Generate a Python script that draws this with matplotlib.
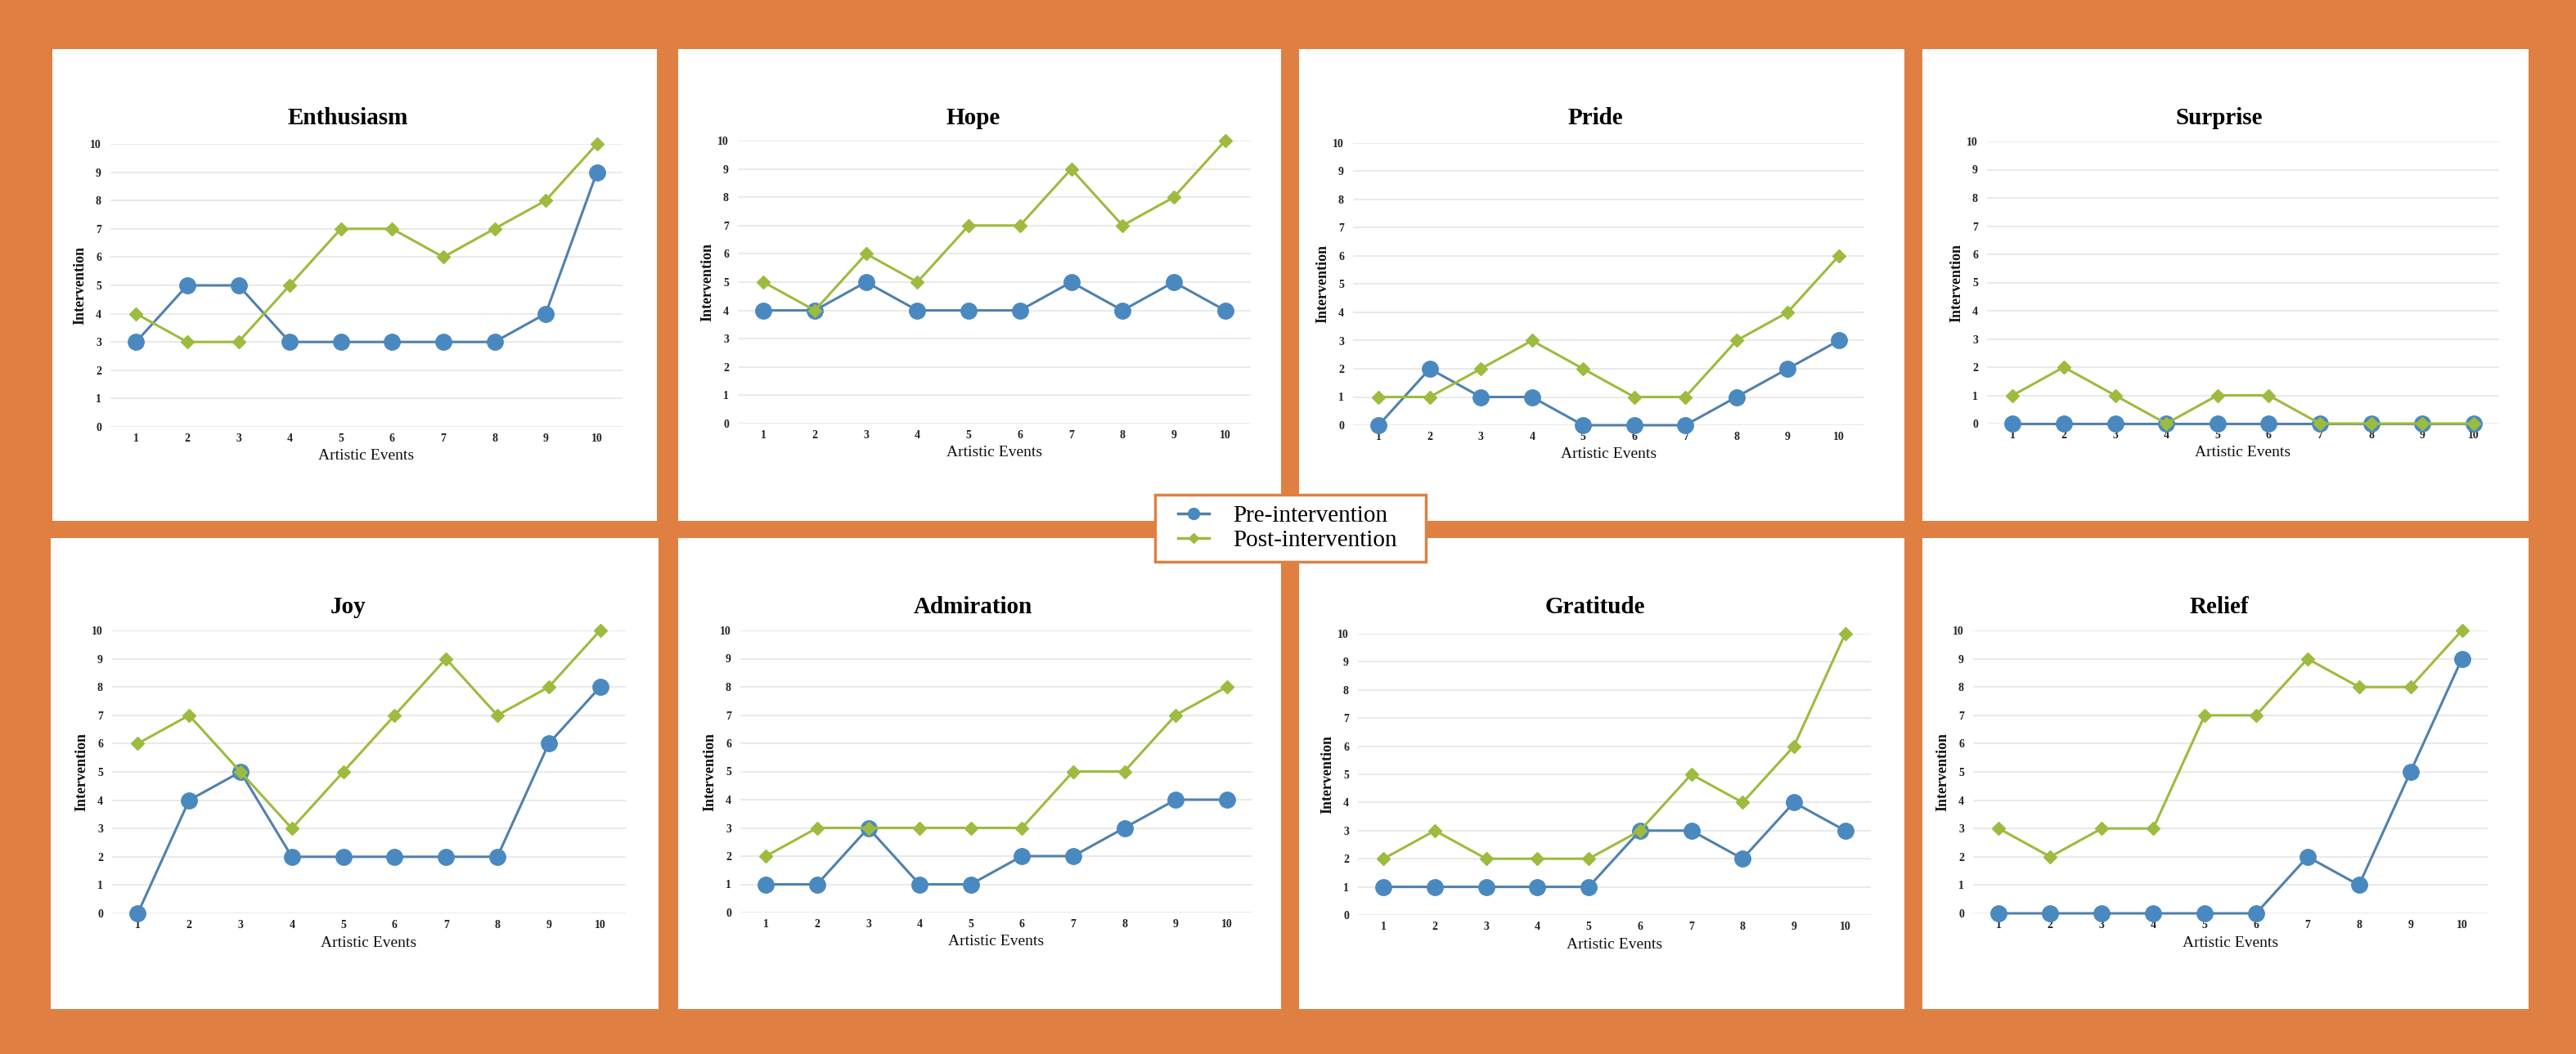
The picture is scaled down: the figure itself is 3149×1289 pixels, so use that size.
import matplotlib
matplotlib.use("Agg")
import matplotlib.pyplot as plt
from matplotlib.patches import Rectangle
from matplotlib.lines import Line2D

# ---------------- data ----------------
events = [1, 2, 3, 4, 5, 6, 7, 8, 9, 10]
y_ticks = [0, 1, 2, 3, 4, 5, 6, 7, 8, 9, 10]
titles = ["Enthusiasm", "Hope", "Pride", "Surprise",
          "Joy", "Admiration", "Gratitude", "Relief"]

enthusiasm_pre = [3, 5, 5, 3, 3, 3, 3, 3, 4, 9]
enthusiasm_post = [4, 3, 3, 5, 7, 7, 6, 7, 8, 10]
hope_pre = [4, 4, 5, 4, 4, 4, 5, 4, 5, 4]
hope_post = [5, 4, 6, 5, 7, 7, 9, 7, 8, 10]
pride_pre = [0, 2, 1, 1, 0, 0, 0, 1, 2, 3]
pride_post = [1, 1, 2, 3, 2, 1, 1, 3, 4, 6]
surprise_pre = [0, 0, 0, 0, 0, 0, 0, 0, 0, 0]
surprise_post = [1, 2, 1, 0, 1, 1, 0, 0, 0, 0]
joy_pre = [0, 4, 5, 2, 2, 2, 2, 2, 6, 8]
joy_post = [6, 7, 5, 3, 5, 7, 9, 7, 8, 10]
admiration_pre = [1, 1, 3, 1, 1, 2, 2, 3, 4, 4]
admiration_post = [2, 3, 3, 3, 3, 3, 5, 5, 7, 8]
gratitude_pre = [1, 1, 1, 1, 1, 3, 3, 2, 4, 3]
gratitude_post = [2, 3, 2, 2, 2, 3, 5, 4, 6, 10]
relief_pre = [0, 0, 0, 0, 0, 0, 2, 1, 5, 9]
relief_post = [3, 2, 3, 3, 7, 7, 9, 8, 8, 10]

pre_series = [enthusiasm_pre, hope_pre, pride_pre, surprise_pre,
              joy_pre, admiration_pre, gratitude_pre, relief_pre]
post_series = [enthusiasm_post, hope_post, pride_post, surprise_post,
               joy_post, admiration_post, gratitude_post, relief_post]

series_labels = ["Pre-intervention", "Post-intervention"]
x_label = "Artistic Events"
y_label = "Intervention"

# ---------------- style ----------------
ORANGE = "#DF8042"
BLUE_M = "#4A89C0"
BLUE_L = "#5081AC"
GREEN = "#9DBB3E"
GRID = "#EAEAEA"
SERIF = "Liberation Serif"

W, H = 3149, 1289
fig = plt.figure(figsize=(W / 100, H / 100), dpi=100, facecolor=ORANGE)


def fx(px):
    return px / W


def fy(py):
    return 1 - py / H


# panel boxes (left, top, right, bottom) in pixels
panels = [(64, 60, 803, 637), (829, 60, 1566, 637),
          (1588, 60, 2328, 637), (2350, 60, 3091, 637),
          (62, 658, 805, 1234), (829, 658, 1566, 1234),
          (1588, 658, 2328, 1234), (2350, 658, 3091, 1234)]
# plot areas (x left, x right, y at 10, y at 0) in pixels
areas = [(135, 761, 176, 522), (902, 1529, 172, 518),
         (1654, 2279, 175, 520), (2429, 3055, 173, 518),
         (137, 765, 771, 1117), (905, 1531, 771, 1116),
         (1660, 2287, 775, 1119), (2412, 3041, 771, 1117)]

for i in range(8):
    pl, pt, pr, pb = panels[i]
    fig.add_artist(Rectangle((fx(pl), fy(pb)), fx(pr - pl), (pb - pt) / H,
                             transform=fig.transFigure, facecolor="white",
                             edgecolor="none", zorder=0))
    gl, gr, y10, y0 = areas[i]
    ax = fig.add_axes([fx(gl), fy(y0), fx(gr - gl), (y0 - y10) / H])
    ax.set_facecolor("none")
    ax.plot(events, pre_series[i], color=BLUE_L, lw=2.2, marker="o",
            markersize=14, markerfacecolor=BLUE_M, markeredgecolor=BLUE_M,
            clip_on=False, zorder=3)
    ax.plot(events, post_series[i], color=GREEN, lw=2.2, marker="D",
            markersize=8, markerfacecolor=GREEN, markeredgecolor=GREEN,
            clip_on=False, zorder=4)
    ax.set_xlim(0.5, 10.5)
    ax.set_ylim(0, 10)
    ax.set_xticks(events)
    ax.set_yticks(y_ticks)
    ax.set_xticklabels([str(e) for e in events])
    ax.set_yticklabels([str(t) for t in y_ticks])
    for sp in ax.spines.values():
        sp.set_visible(False)
    ax.yaxis.grid(True, color=GRID, lw=1.5)
    ax.xaxis.grid(False)
    ax.set_axisbelow(True)
    ax.tick_params(axis="both", length=0, labelsize=10, labelcolor="#222222")
    ax.tick_params(axis="x", pad=6)
    ax.tick_params(axis="y", pad=8)
    for lab in ax.get_xticklabels() + ax.get_yticklabels():
        lab.set_fontfamily(SERIF)
        lab.set_fontweight("bold")

    # title
    fig.text(fx((pl + pr) / 2 - 8), fy(pt + 85), titles[i], ha="center",
             va="center", fontsize=21, fontweight="bold", family=SERIF,
             color="black")
    # x label
    fig.text(fx((gl + gr) / 2), fy(y0 + 36), x_label, ha="center",
             va="center", fontsize=14, family=SERIF, color="#111111")
    # y label
    fig.text(fx(gl - 37), fy((y10 + y0) / 2), y_label, ha="center",
             va="center", rotation=90, fontsize=13, fontweight="bold",
             family=SERIF, color="#111111")

# legend box
fig.add_artist(Rectangle((fx(1412), fy(687)), fx(1743 - 1412), (687 - 605) / H,
                         transform=fig.transFigure, facecolor="white",
                         edgecolor=ORANGE, lw=2.5, zorder=9))
handles = [Line2D([], [], color=BLUE_L, lw=2.5, marker="o", markersize=10,
                  markerfacecolor=BLUE_M, markeredgecolor=BLUE_M),
           Line2D([], [], color=GREEN, lw=2.5, marker="D", markersize=6,
                  markerfacecolor=GREEN, markeredgecolor=GREEN)]
leg = fig.legend(handles, series_labels, loc="center left",
                 bbox_to_anchor=(fx(1440), fy(646)),
                 prop={"family": SERIF, "size": 21}, frameon=False,
                 borderpad=0, handlelength=1.3, handletextpad=1.0,
                 labelspacing=0.12, borderaxespad=0)
leg.set_zorder(10)

fig.savefig("out.png", dpi=100, facecolor=ORANGE)
